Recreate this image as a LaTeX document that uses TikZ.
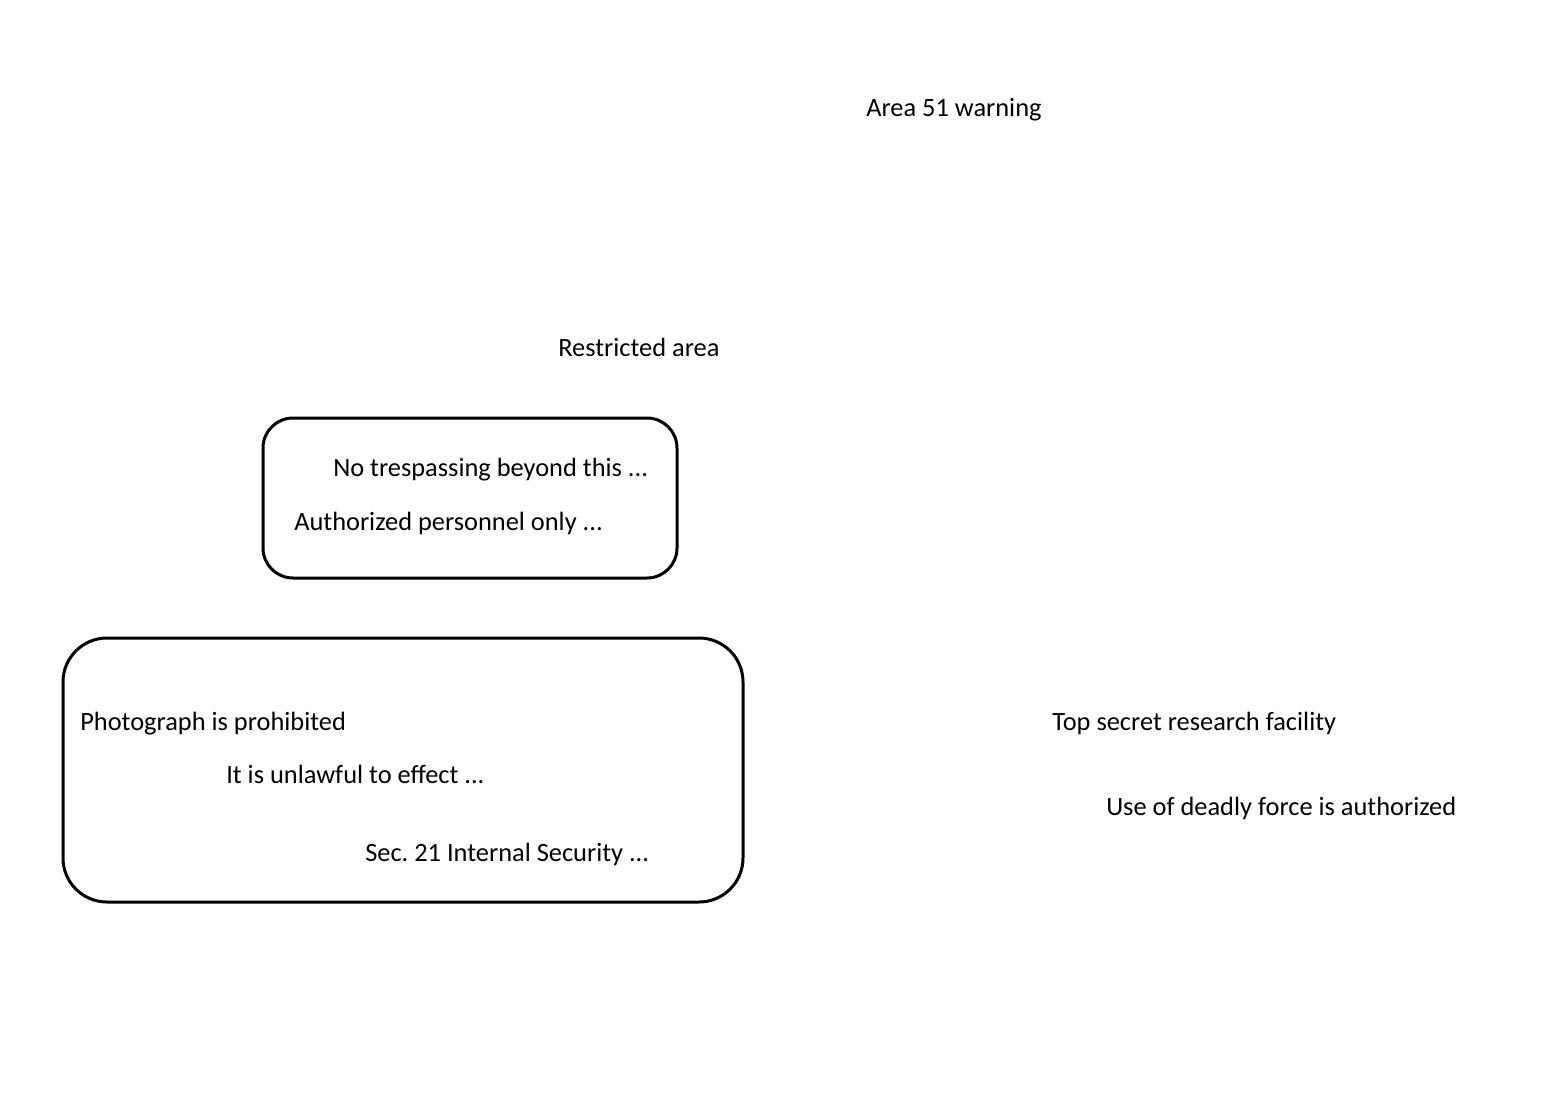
\documentclass[tikz,border=0pt]{standalone}
\usepackage{fontspec}
\setmainfont{Carlito}
\begin{document}
\frenchspacing
\begin{tikzpicture}[x=0.75pt,y=-0.75pt,
  lbl/.style={anchor=base west,inner sep=0pt,font=\fontsize{19.8pt}{23pt}\selectfont},
  box/.style={draw,line width=2.25pt}]
\useasboundingbox (0,0) rectangle (1549,1100);
\draw[box,rounded corners=22.5pt] (263,418) rectangle (677,578);
\node[coordinate] (b1) at (470,498) {};
\draw[box,rounded corners=33pt] (63,638) rectangle (743,902);
\node[coordinate] (b2) at (403,770) {};
\node[lbl] (t0) at (866,116) {Area 51 warning};
\node[lbl] (t1) at (558,356) {Restricted area};
\node[lbl] (t2) at (333,476) {No trespassing beyond this ...};
\node[lbl] (t3) at (294,530) {Authorized personnel only ...};
\node[lbl] (t4) at (80,730) {Photograph is prohibited};
\node[lbl] (t5) at (226,783) {It is unlawful to effect ...};
\node[lbl] (t6) at (365,861) {Sec. 21 Internal Security ...};
\node[lbl] (t7) at (1052,730) {Top secret research facility};
\node[lbl] (t8) at (1106,815) {Use of deadly force is authorized};
\end{tikzpicture}
\end{document}
